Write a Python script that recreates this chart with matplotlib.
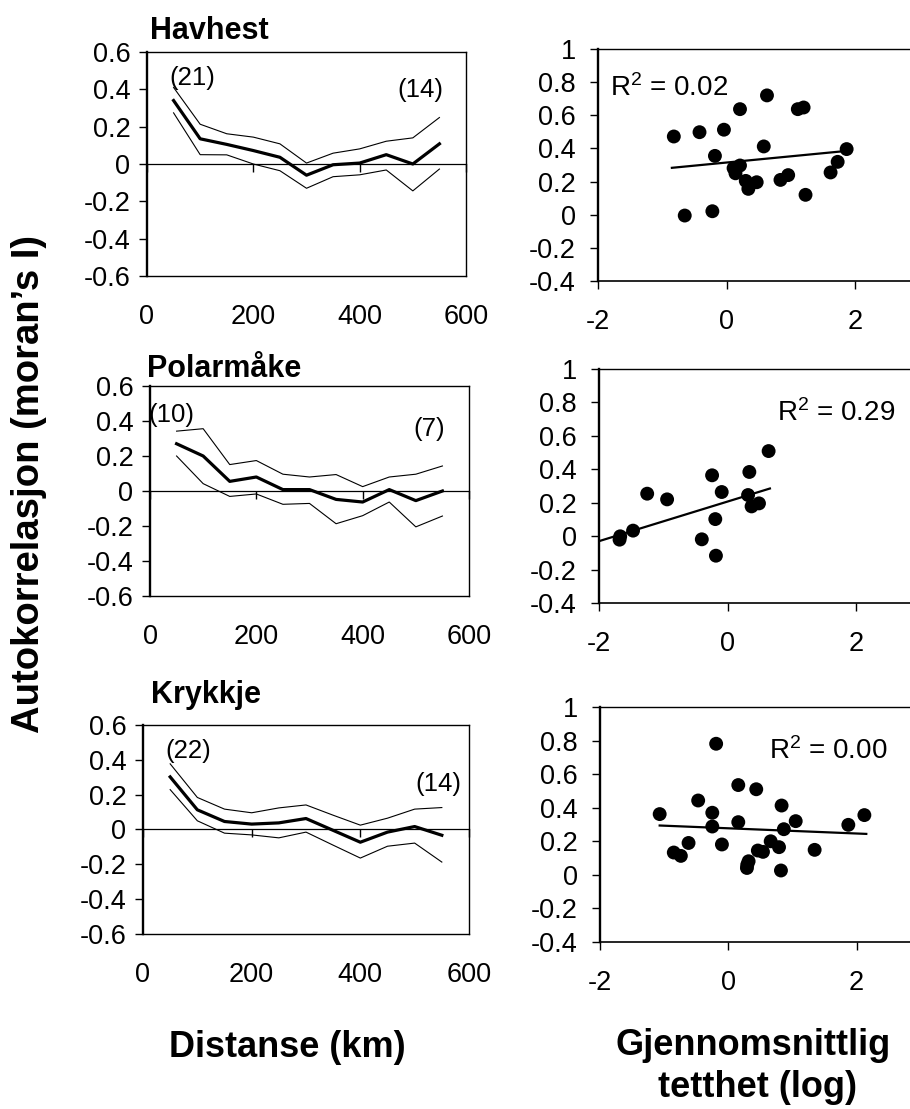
import numpy as np
import matplotlib
matplotlib.use("Agg")
import matplotlib.pyplot as plt

plt.rcParams['font.family'] = ['Liberation Sans', 'DejaVu Sans']
plt.rcParams['mathtext.fontset'] = 'custom'
plt.rcParams['mathtext.rm'] = 'Liberation Sans'
plt.rcParams['mathtext.it'] = 'Liberation Sans:italic'

# ---------------- data ----------------
species = ["Havhest", "Polarmåke", "Krykkje"]
dist = [50, 100, 150, 200, 250, 300, 350, 400, 450, 500, 550]

havhest_mean = [0.34, 0.135, 0.105, 0.072, 0.036, -0.06, -0.004, 0.005, 0.05, 0.0, 0.108]
havhest_upper = [0.41, 0.213, 0.162, 0.144, 0.108, 0.005, 0.058, 0.081, 0.122, 0.14, 0.249]
havhest_lower = [0.274, 0.05, 0.049, 0.0, -0.036, -0.13, -0.068, -0.058, -0.032, -0.144, -0.027]

polar_mean = [0.27, 0.2, 0.055, 0.08, 0.008, 0.008, -0.048, -0.063, 0.008, -0.055, 0.0]
polar_upper = [0.342, 0.356, 0.151, 0.174, 0.096, 0.08, 0.094, 0.025, 0.08, 0.096, 0.143]
polar_lower = [0.2, 0.042, -0.031, -0.017, -0.076, -0.071, -0.187, -0.141, -0.063, -0.205, -0.143]

kry_mean = [0.302, 0.113, 0.046, 0.031, 0.038, 0.063, -0.005, -0.073, -0.015, 0.017, -0.033]
kry_upper = [0.377, 0.184, 0.117, 0.096, 0.124, 0.141, 0.082, 0.025, 0.065, 0.117, 0.126]
kry_lower = [0.229, 0.05, -0.021, -0.031, -0.048, -0.015, -0.09, -0.164, -0.096, -0.078, -0.187]

n_labels_first = ["(21)", "(10)", "(22)"]
n_labels_last = ["(14)", "(7)", "(14)"]
n_first_pos = [(86, 0.423), (41, 0.392), (83, 0.411)]
n_last_pos = [(515, 0.36), (525, 0.314), (544, 0.22)]

# scatter: density (log) vs autocorrelation
havhest_x = [-0.82, -0.42, -0.04, 0.21, 0.63, 1.11, 1.20, -0.18, 0.58, 1.87, 1.73, 1.62,
             0.11, 0.21, 0.14, 0.30, 0.47, 0.34, 0.84, 0.96, 1.23, -0.65, -0.22]
havhest_y = [0.472, 0.498, 0.513, 0.637, 0.72, 0.637, 0.647, 0.355, 0.412, 0.396, 0.319, 0.255,
             0.281, 0.297, 0.25, 0.204, 0.196, 0.156, 0.21, 0.239, 0.12, -0.005, 0.021]

polar_x = [-1.68, -1.67, -1.47, -1.25, -0.94, -0.40, -0.24, -0.09, -0.19, -0.18,
           0.32, 0.34, 0.375, 0.49, 0.64]
polar_y = [-0.021, -0.001, 0.033, 0.254, 0.22, -0.019, 0.364, 0.264, 0.102, -0.117,
           0.246, 0.384, 0.178, 0.196, 0.509]

kry_x = [-1.07, -0.85, -0.74, -0.62, -0.47, -0.25, -0.25, -0.19, -0.10, 0.155, 0.155, 0.435,
         0.295, 0.316, 0.29, 0.46, 0.54, 0.66, 0.79, 0.83, 0.865, 0.82, 1.05, 1.345, 1.87, 2.12]
kry_y = [0.362, 0.133, 0.113, 0.19, 0.443, 0.37, 0.288, 0.781, 0.181, 0.314, 0.535, 0.51,
         0.06, 0.081, 0.041, 0.145, 0.137, 0.2, 0.165, 0.413, 0.272, 0.026, 0.32, 0.149, 0.298, 0.356]

# linear trendlines (end points)
trend_x = [[-0.85, 1.87], [-2.0, 0.66], [-1.07, 2.15]]
trend_y = [[0.283, 0.385], [-0.03, 0.285], [0.294, 0.244]]
r2_labels = ["R$^\\mathrm{2}$ = 0.02", "R$^\\mathrm{2}$ = 0.29", "R$^\\mathrm{2}$ = 0.00"]
r2_pos = [(-1.81, 0.714), (0.77, 0.687), (0.64, 0.69)]

left_yticks = [-0.6, -0.4, -0.2, 0.0, 0.2, 0.4, 0.6]
left_yticklabels = ["-0.6", "-0.4", "-0.2", "0", "0.2", "0.4", "0.6"]
left_xticks = [0, 200, 400, 600]
right_yticks = [-0.4, -0.2, 0.0, 0.2, 0.4, 0.6, 0.8, 1.0]
right_yticklabels = ["-0.4", "-0.2", "0", "0.2", "0.4", "0.6", "0.8", "1"]
right_xticks = [-2, 0, 2]

# ---------------- layout ----------------
W, H = 910, 1109
fig = plt.figure(figsize=(W / 100, H / 100), dpi=100)


def px_axes(x0, y0, x1, y1):
    return fig.add_axes([x0 / W, 1 - y1 / H, (x1 - x0) / W, (y1 - y0) / H])


left_boxes = [(147, 52, 466, 276), (150, 386, 469, 596), (143, 725, 469, 934)]
right_boxes = [(598, 49, 983.5, 281), (599, 369, 984.5, 603), (600, 707, 985, 942)]
title_pos = [(150, 39), (147, 377), (151, 703)]

means = [havhest_mean, polar_mean, kry_mean]
uppers = [havhest_upper, polar_upper, kry_upper]
lowers = [havhest_lower, polar_lower, kry_lower]
sx = [havhest_x, polar_x, kry_x]
sy = [havhest_y, polar_y, kry_y]

TICK_FS = 19.5

for i in range(3):
    # ----- left: correlogram -----
    ax = px_axes(*left_boxes[i])
    ax.plot(dist, uppers[i], color='black', lw=0.8)
    ax.plot(dist, lowers[i], color='black', lw=0.8)
    ax.plot(dist, means[i], color='black', lw=2.3)
    ax.set_xlim(0, 600)
    ax.set_ylim(-0.6, 0.6)
    ax.spines['bottom'].set_position(('data', 0))
    ax.spines['bottom'].set_linewidth(0.9)
    ax.spines['left'].set_linewidth(1.7)
    ax.spines['top'].set_linewidth(1.0)
    ax.spines['right'].set_linewidth(1.0)
    ax.set_xticks(left_xticks)
    ax.tick_params(axis='x', direction='out', length=6, width=1, labelbottom=False)
    ax.set_yticks(left_yticks)
    ax.set_yticklabels(left_yticklabels)
    ax.tick_params(axis='y', direction='out', length=6, width=1, pad=6, labelsize=TICK_FS)
    sec = ax.secondary_xaxis('bottom')
    sec.set_xticks(left_xticks)
    sec.set_xticklabels([str(t) for t in left_xticks])
    sec.tick_params(length=0, pad=20, labelsize=TICK_FS)
    sec.spines['bottom'].set_linewidth(1.0)
    ax.text(*n_first_pos[i], n_labels_first[i], ha='center', va='baseline', fontsize=18.5)
    ax.text(*n_last_pos[i], n_labels_last[i], ha='center', va='baseline', fontsize=18.5)
    fig.text(title_pos[i][0] / W, 1 - title_pos[i][1] / H, species[i],
             fontsize=22, fontweight='bold', ha='left', va='baseline')

    # ----- right: scatter -----
    axr = px_axes(*right_boxes[i])
    axr.scatter(sx[i], sy[i], s=100, color='black', edgecolors='none', zorder=3)
    axr.plot(trend_x[i], trend_y[i], color='black', lw=1.6)
    axr.set_xlim(-2, 4)
    axr.set_ylim(-0.4, 1.0)
    axr.set_xticks(right_xticks)
    axr.set_xticklabels([str(t) for t in right_xticks])
    axr.set_yticks(right_yticks)
    axr.set_yticklabels(right_yticklabels)
    axr.tick_params(axis='x', direction='out', length=6, width=1, pad=14, labelsize=TICK_FS)
    axr.tick_params(axis='y', direction='out', length=6, width=1, pad=10, labelsize=TICK_FS)
    axr.spines['left'].set_linewidth(1.7)
    axr.spines['bottom'].set_linewidth(1.2)
    axr.spines['top'].set_linewidth(1.0)
    axr.spines['right'].set_linewidth(1.0)
    axr.text(*r2_pos[i], r2_labels[i], ha='left', va='baseline', fontsize=20)

fig.text(29 / W, 1 - 484 / H, "Autokorrelasjon (moran’s I)", rotation=90,
         fontsize=27.5, fontweight='bold', ha='center', va='center')
fig.text(287 / W, 1 - 1057 / H, "Distanse (km)", fontsize=26, fontweight='bold',
         ha='center', va='baseline')
fig.text(753 / W, 1 - 1055 / H, "Gjennomsnittlig", fontsize=26, fontweight='bold',
         ha='center', va='baseline')
fig.text(757 / W, 1 - 1097 / H, "tetthet (log)", fontsize=26, fontweight='bold',
         ha='center', va='baseline')

fig.savefig("out.png", dpi=100, facecolor='white')
